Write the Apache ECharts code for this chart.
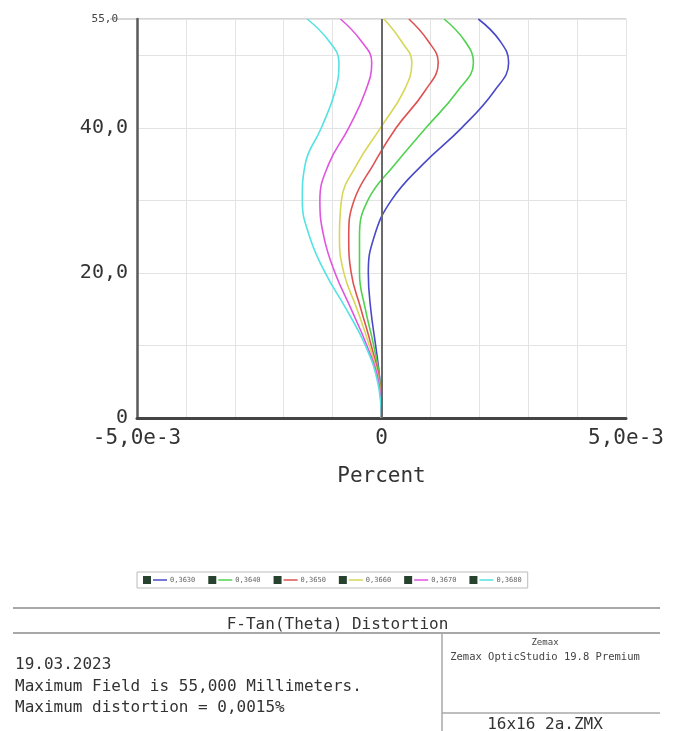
<!DOCTYPE html>
<html lang="de">
<head>
    <meta charset="UTF-8">
    <title>F-Tan(Theta) Distortion</title>
    <script src="https://cdn.jsdelivr.net/npm/echarts@6.0.0/dist/echarts.min.js"></script>
    <style>
        html, body { margin: 0; padding: 0; background: #fff; }
        #main { width: 675px; height: 731px; }
    </style>
</head>
<body>
    <div id="main"></div>
    <script>
        // Feldhoehe in mm (y-Achse)
        var fieldMm = [0, 5, 10, 15, 20, 25, 30, 35, 40, 45, 49, 52, 55];

        // Verzeichnung in Einheiten von 1e-3 Prozent, je Wellenlaenge
        var wavelengths = ['0,3630', '0,3640', '0,3650', '0,3660', '0,3670', '0,3680'];
        var dist3630 = [0, -0.03, -0.12, -0.22, -0.27, -0.15, 0.20, 0.85, 1.64, 2.30, 2.60, 2.42, 1.98];
        var dist3640 = [0, -0.03, -0.16, -0.33, -0.45, -0.45, -0.28, 0.28, 0.91, 1.55, 1.88, 1.70, 1.28];
        var dist3650 = [0, -0.04, -0.21, -0.42, -0.62, -0.67, -0.56, -0.16, 0.30, 0.88, 1.16, 0.95, 0.56];
        var dist3660 = [0, -0.05, -0.25, -0.50, -0.77, -0.86, -0.82, -0.50, -0.02, 0.45, 0.62, 0.40, 0.05];
        var dist3670 = [0, -0.06, -0.30, -0.62, -0.95, -1.18, -1.26, -1.08, -0.67, -0.33, -0.20, -0.42, -0.84];
        var dist3680 = [0, -0.08, -0.33, -0.72, -1.15, -1.47, -1.62, -1.56, -1.23, -0.95, -0.87, -1.08, -1.52];

        var allDist = [dist3630, dist3640, dist3650, dist3660, dist3670, dist3680];
        var colors = ['#4a4ac8', '#4fd24f', '#de5252', '#d6d658', '#e055e0', '#55e2e2'];

        var mono = '"DejaVu Sans Mono", "Liberation Mono", monospace';

        var series = allDist.map(function (d, i) {
            return {
                name: wavelengths[i],
                type: 'line',
                showSymbol: false,
                smooth: 0.45,
                lineStyle: { width: 1.6, color: colors[i] },
                itemStyle: { color: colors[i] },
                z: 3,
                data: d.map(function (v, k) { return [v, fieldMm[k]]; })
            };
        });
        // senkrechte Nulllinie
        series[0].markLine = {
            silent: true,
            symbol: 'none',
            label: { show: false },
            lineStyle: { color: '#6a6a6a', width: 2, type: 'solid' },
            data: [{ xAxis: 0 }]
        };

        // Legende: dunkles Kaestchen + farbiger Strich + Text
        var legendRich = { t: { fontSize: 7, color: '#666', fontFamily: mono, padding: [0, 0, 0, 3] } };
        colors.forEach(function (c, i) {
            legendRich['l' + i] = { width: 14, height: 1.5, backgroundColor: c };
        });

        var chart = echarts.init(document.getElementById('main'));

        var option = {
            backgroundColor: '#fff',
            animation: false,
            title: {
                text: 'F-Tan(Theta) Distortion',
                left: 'center',
                top: 612,
                textStyle: { fontFamily: mono, fontSize: 16, fontWeight: 'normal', color: '#333' }
            },
            legend: {
                left: 137,
                top: 572,
                data: wavelengths.map(function (w) {
                    return { name: w, icon: 'rect', itemStyle: { color: '#27432f' } };
                }),
                itemWidth: 8,
                itemHeight: 8,
                itemGap: 13,
                padding: [4, 6],
                borderColor: '#bbb',
                borderWidth: 1,
                formatter: function (name) {
                    return '{l' + wavelengths.indexOf(name) + '| }{t|' + name + '}';
                },
                textStyle: { fontSize: 7, fontFamily: mono, padding: [0, 0, 0, -3], rich: legendRich }
            },
            grid: { left: 137, right: 49, top: 19, bottom: 313 },
            // x-Achse in Einheiten von 1e-3 Prozent
            xAxis: {
                type: 'value',
                min: -5,
                max: 5,
                interval: 1,
                name: 'Percent',
                nameLocation: 'middle',
                nameGap: 48,
                nameTextStyle: { fontFamily: mono, fontSize: 21, color: '#333' },
                axisLine: { onZero: false, lineStyle: { color: '#444', width: 3 } },
                axisTick: { show: false },
                axisLabel: {
                    fontFamily: mono,
                    fontSize: 21,
                    color: '#333',
                    margin: 10,
                    formatter: function (v) {
                        if (v === 0) return '0';
                        if (v === -5) return '-5,0e-3';
                        if (v === 5) return '5,0e-3';
                        return '';
                    }
                },
                splitLine: { show: true, lineStyle: { color: '#e3e3e3', width: 1 } }
            },
            yAxis: {
                type: 'value',
                min: 0,
                max: 55,
                interval: 10,
                axisLine: { show: true, onZero: false, lineStyle: { color: '#5a5a5a', width: 2.5 } },
                axisTick: { show: false },
                axisLabel: {
                    fontFamily: mono,
                    fontSize: 20,
                    color: '#333',
                    margin: 9,
                    formatter: function (v) {
                        if (v === 0) return '0';
                        if (v === 55) return '{s|55,0}';
                        if (v % 20 === 0) return v.toFixed(1).replace('.', ',');
                        return '';
                    },
                    rich: { s: { fontFamily: mono, fontSize: 11, color: '#444', padding: [0, 10, 0, 0] } }
                },
                splitLine: { show: true, lineStyle: { color: '#e3e3e3', width: 1 } }
            },
            graphic: [
                { type: 'line', shape: { x1: 110, y1: 19, x2: 626, y2: 19 }, style: { stroke: '#c8c8c8', lineWidth: 1.5 } },
                { type: 'line', shape: { x1: 13, y1: 608, x2: 660, y2: 608 }, style: { stroke: '#a8a8a8', lineWidth: 2 } },
                { type: 'line', shape: { x1: 13, y1: 633, x2: 660, y2: 633 }, style: { stroke: '#a8a8a8', lineWidth: 2 } },
                { type: 'line', shape: { x1: 442, y1: 633, x2: 442, y2: 731 }, style: { stroke: '#a8a8a8', lineWidth: 1.5 } },
                { type: 'line', shape: { x1: 442, y1: 713, x2: 660, y2: 713 }, style: { stroke: '#a8a8a8', lineWidth: 1.5 } },
                { type: 'text', x: 15, y: 657, style: { text: '19.03.2023', font: '16px ' + mono, fill: '#333' } },
                { type: 'text', x: 15, y: 679, style: { text: 'Maximum Field is 55,000 Millimeters.', font: '16px ' + mono, fill: '#333' } },
                { type: 'text', x: 15, y: 700, style: { text: 'Maximum distortion = 0,0015%', font: '16px ' + mono, fill: '#333' } },
                { type: 'text', x: 545, y: 638, style: { text: 'Zemax', font: '9px ' + mono, fill: '#444', textAlign: 'center' } },
                { type: 'text', x: 545, y: 652, style: { text: 'Zemax OpticStudio 19.8 Premium', font: '10.5px ' + mono, fill: '#444', textAlign: 'center' } },
                { type: 'text', x: 545, y: 717, style: { text: '16x16 2a.ZMX', font: '16px ' + mono, fill: '#333', textAlign: 'center' } }
            ],
            series: series
        };

        chart.setOption(option);
    </script>
</body>
</html>
